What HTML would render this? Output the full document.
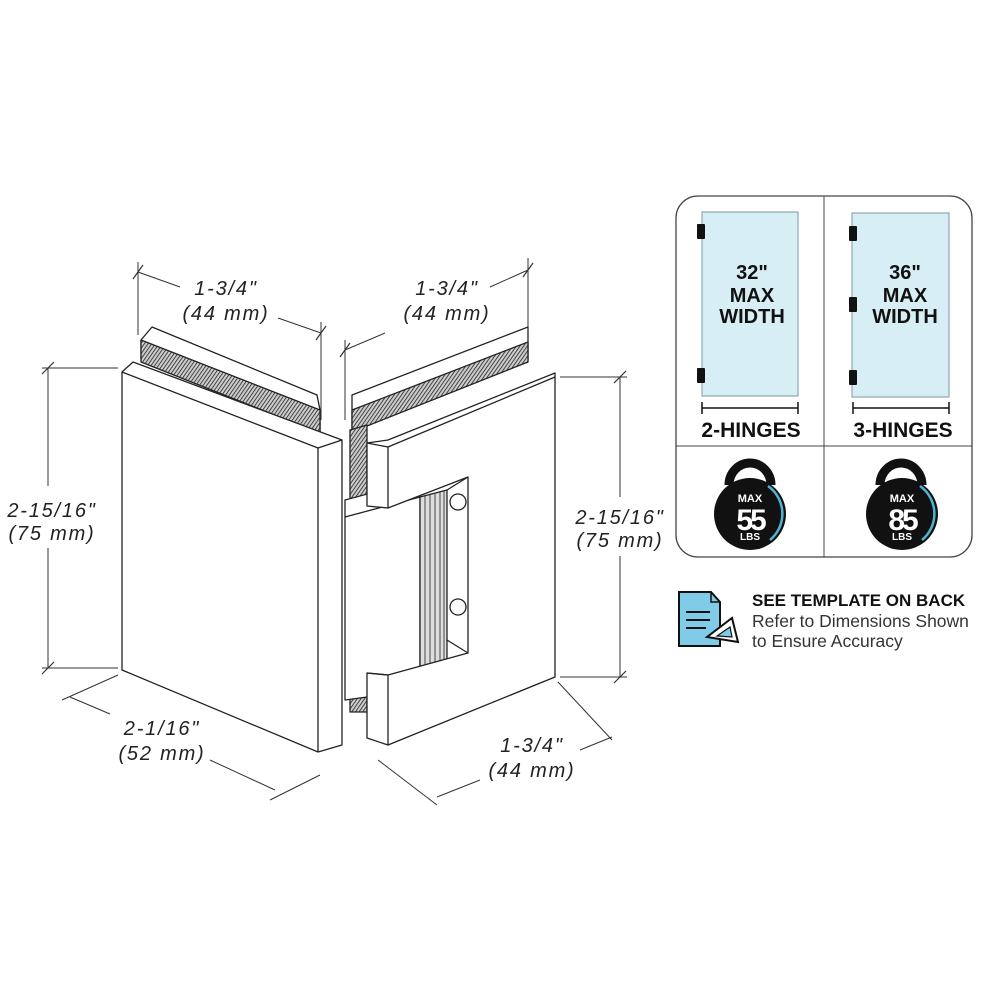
<!DOCTYPE html>
<html><head><style>
html,body{margin:0;padding:0;background:#fff}
svg{display:block}
text{font-family:"Liberation Sans",sans-serif}
</style></head><body>
<svg width="1000" height="1000" viewBox="0 0 1000 1000" xmlns="http://www.w3.org/2000/svg">
<defs>
<pattern id="h" width="3" height="3" patternUnits="userSpaceOnUse" patternTransform="rotate(35)">
<rect width="3" height="3" fill="#ccc"/><line x1="0" y1="0" x2="0" y2="3" stroke="#222" stroke-width="1.6"/>
</pattern>
</defs>
<g stroke="#222" stroke-width="1.3" fill="#fff" stroke-linejoin="round">
<polygon points="141,340 152,327 317,395 320,410 320,433 141,360"/>
<polygon points="141,340 320,410 320,433 141,362" fill="url(#h)"/>
<polygon points="352,395 528,327 528,360 352,430"/>
<polygon points="352,410 528,342 528,362 352,432" fill="url(#h)"/>
<polygon points="350,430 367,425 367,500 350,505" fill="url(#h)"/>
<polygon points="350,680 367,680 367,712 350,712" fill="url(#h)"/>
<polygon points="122,372 133,362 342,440 342,745 318,752 122,670"/>
<line x1="122" y1="372" x2="318" y2="448"/>
<line x1="318" y1="448" x2="342" y2="440"/>
<line x1="318" y1="448" x2="318" y2="752"/>
<polygon points="345,500 420,480 420,690 345,700"/>
<line x1="345" y1="517" x2="420" y2="497"/>
<polygon points="420,497 447,490 447,683 420,690" fill="#ddd"/>
<g stroke-width="0.8"><line x1="425" y1="496" x2="425" y2="688"/><line x1="430" y1="495" x2="430" y2="687"/><line x1="435" y1="494" x2="435" y2="686"/><line x1="440" y1="492" x2="440" y2="685"/><line x1="444" y1="491" x2="444" y2="684"/></g>
<polygon points="367,443 388,440 555,373 555,677 388,745 367,738 367,673 388,675 468,653 468,477 388,508 367,506"/>
<line x1="388" y1="447" x2="388" y2="508"/>
<line x1="367" y1="443" x2="388" y2="447"/>
<line x1="388" y1="447" x2="555" y2="377"/>
<line x1="388" y1="675" x2="388" y2="745"/>
<line x1="367" y1="673" x2="388" y2="675"/>
<circle cx="458" cy="502" r="8"/><circle cx="458" cy="607" r="8"/>
<line x1="447" y1="490" x2="468" y2="477"/><line x1="447" y1="640" x2="468" y2="653"/>
</g>
<g stroke="#333" stroke-width="1" fill="none">
<line x1="138" y1="262" x2="138" y2="335"/><line x1="321" y1="322" x2="321" y2="420"/>
<line x1="138" y1="272" x2="180" y2="287"/><line x1="278" y1="318" x2="321" y2="333"/>
<line x1="345" y1="340" x2="345" y2="420"/><line x1="528" y1="258" x2="528" y2="330"/>
<line x1="345" y1="350" x2="385" y2="333"/><line x1="490" y1="287" x2="528" y2="270"/>
<line x1="42" y1="368" x2="118" y2="368"/><line x1="42" y1="668" x2="118" y2="668"/>
<line x1="48" y1="368" x2="48" y2="486"/><line x1="48" y1="548" x2="48" y2="668"/>
<line x1="560" y1="377" x2="627" y2="377"/><line x1="560" y1="677" x2="627" y2="677"/>
<line x1="620" y1="377" x2="620" y2="497"/><line x1="620" y1="556" x2="620" y2="677"/>
<line x1="62" y1="700" x2="118" y2="675"/><line x1="270" y1="800" x2="320" y2="775"/>
<line x1="70" y1="697" x2="110" y2="714"/><line x1="210" y1="760" x2="275" y2="790"/>
<line x1="437" y1="805" x2="378" y2="760"/><line x1="612" y1="740" x2="558" y2="682"/>
<line x1="437" y1="797" x2="480" y2="780"/><line x1="580" y1="750" x2="612" y2="737"/>
<g stroke-width="1.2">
<line x1="133" y1="279" x2="143" y2="265"/><line x1="316" y1="340" x2="326" y2="326"/>
<line x1="340" y1="357" x2="350" y2="343"/><line x1="523" y1="277" x2="533" y2="263"/>
<line x1="42" y1="374" x2="54" y2="362"/><line x1="42" y1="674" x2="54" y2="662"/>
<line x1="614" y1="383" x2="626" y2="371"/><line x1="614" y1="683" x2="626" y2="671"/>
</g>
</g>
<g font-size="20" font-style="italic" fill="#222" text-anchor="middle" letter-spacing="1.8">
<text x="226" y="295">1-3/4"</text><text x="226" y="320">(44 mm)</text>
<text x="447" y="295">1-3/4"</text><text x="447" y="320">(44 mm)</text>
<text x="52" y="517">2-15/16"</text><text x="52" y="540">(75 mm)</text>
<text x="620" y="524">2-15/16"</text><text x="620" y="547">(75 mm)</text>
<text x="162" y="735">2-1/16"</text><text x="162" y="760">(52 mm)</text>
<text x="532" y="752">1-3/4"</text><text x="532" y="777">(44 mm)</text>
</g>
<rect x="676" y="196" width="296" height="361" rx="22" fill="#fff" stroke="#444" stroke-width="1.3"/>
<line x1="824" y1="196" x2="824" y2="557" stroke="#444"/>
<line x1="676" y1="446" x2="972" y2="446" stroke="#444"/>
<rect x="702" y="212" width="96" height="184" fill="#d8eef5" stroke="#7a9aa5"/>
<rect x="852" y="213" width="97" height="184" fill="#d8eef5" stroke="#7a9aa5"/>
<g fill="#111">
<rect x="697" y="224" width="8" height="15" rx="1"/><rect x="697" y="368" width="8" height="15" rx="1"/>
<rect x="849" y="226" width="8" height="15" rx="1"/><rect x="849" y="297" width="8" height="15" rx="1"/><rect x="849" y="370" width="8" height="15" rx="1"/>
</g>
<g stroke="#111" stroke-width="1.5">
<line x1="702" y1="408" x2="798" y2="408"/><line x1="702" y1="402" x2="702" y2="414"/><line x1="798" y1="402" x2="798" y2="414"/>
<line x1="853" y1="408" x2="949" y2="408"/><line x1="853" y1="402" x2="853" y2="414"/><line x1="949" y1="402" x2="949" y2="414"/>
</g>
<g font-weight="bold" fill="#111" text-anchor="middle" font-size="20">
<text x="752" y="279">32"</text><text x="752" y="302">MAX</text><text x="752" y="323">WIDTH</text>
<text x="905" y="279">36"</text><text x="905" y="302">MAX</text><text x="905" y="323">WIDTH</text>
<text x="751" y="437" font-size="21">2-HINGES</text><text x="903" y="437" font-size="21">3-HINGES</text>
</g>
<g>
<path d="M729,485 A21,22 0 0 1 771,485" fill="none" stroke="#111" stroke-width="9"/>
<circle cx="750" cy="514" r="36" fill="#111"/>
<path d="M768,486 A34,34 0 0 1 770,540" fill="none" stroke="#4fb3d6" stroke-width="2.5"/>
<path d="M880,485 A21,22 0 0 1 922,485" fill="none" stroke="#111" stroke-width="9"/>
<circle cx="902" cy="514" r="36" fill="#111"/>
<path d="M920,486 A34,34 0 0 1 922,540" fill="none" stroke="#4fb3d6" stroke-width="2.5"/>
<g fill="#fff" text-anchor="middle" font-weight="bold">
<text x="750" y="502" font-size="11">MAX</text><text x="750" y="530" font-size="30" letter-spacing="-3">55</text><text x="750" y="540" font-size="10">LBS</text>
<text x="902" y="502" font-size="11">MAX</text><text x="902" y="530" font-size="30" letter-spacing="-3">85</text><text x="902" y="540" font-size="10">LBS</text>
</g>
</g>
<path d="M679,592 L711,592 L720,602 L720,646 L679,646 Z" fill="#7fcbe8" stroke="#111" stroke-width="2"/>
<path d="M711,592 L711,602 L720,602" fill="none" stroke="#111" stroke-width="1.5"/>
<g stroke="#111" stroke-width="2"><line x1="686" y1="612" x2="710" y2="612"/><line x1="686" y1="620" x2="710" y2="620"/><line x1="686" y1="628" x2="706" y2="628"/></g>
<path d="M707,637 L732,618 L738,642 Z" fill="#fff" stroke="#111" stroke-width="2"/>
<path d="M717,636 L730,627 L732,637 Z" fill="#7fcbe8" stroke="#111" stroke-width="1.2"/>
<text x="752" y="606" font-size="17" font-weight="bold" fill="#111">SEE TEMPLATE ON BACK</text>
<text x="752" y="627" font-size="17.5" fill="#333">Refer to Dimensions Shown</text>
<text x="752" y="647" font-size="17.5" fill="#333">to Ensure Accuracy</text>
</svg>
</body></html>
